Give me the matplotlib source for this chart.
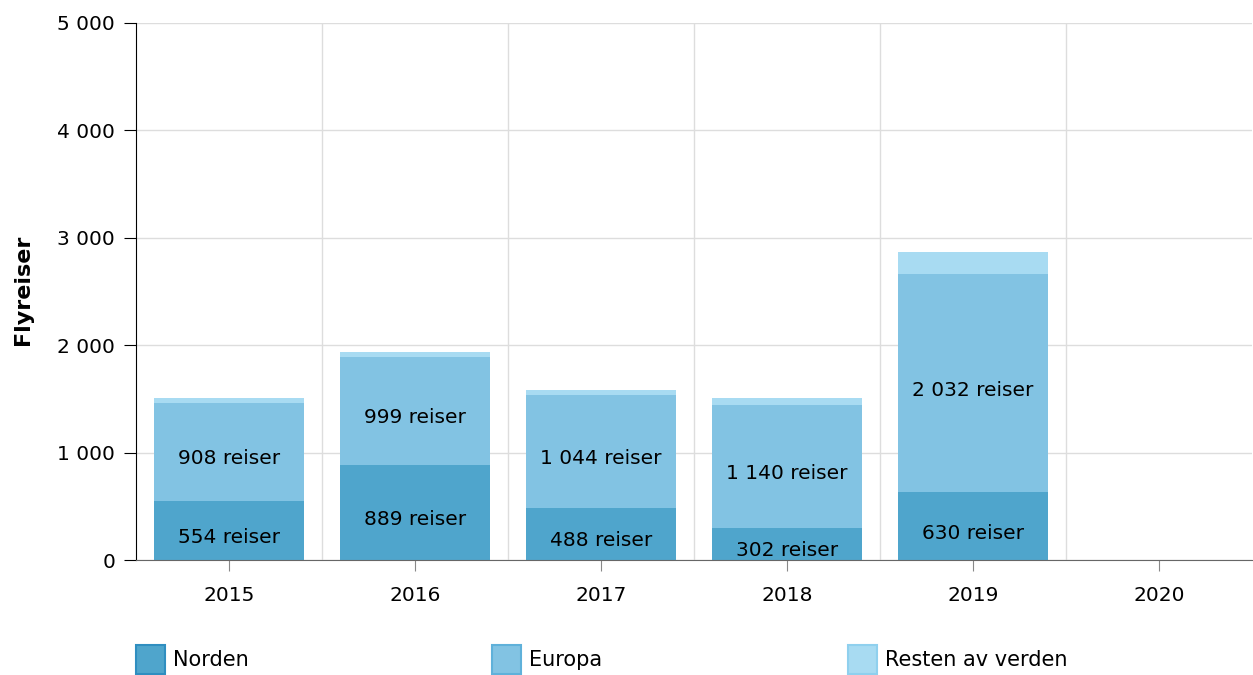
import matplotlib.pyplot as plt
from matplotlib.patches import Rectangle
from matplotlib.ticker import FuncFormatter, MultipleLocator

years = ['2015', '2016', '2017', '2018', '2019', '2020']
norden = [554, 889, 488, 302, 630, 0]
europa = [908, 999, 1044, 1140, 2032, 0]
resten = [46, 49, 51, 66, 206, 0]
series_names = ['Norden', 'Europa', 'Resten av verden']
colors = ['#4fa5cc', '#82c3e3', '#a8dbf2']
edge_colors = ['#2f8ec0', '#5fb1da', '#8fd0ee']

plt.rcParams['font.family'] = ['DejaVu Sans']

fig = plt.figure(figsize=(12.53, 6.75), dpi=100)
ax = fig.add_axes([136 / 1253, 1 - 560 / 675, 1116 / 1253, 537 / 675])

x = list(range(len(years)))
w = 0.81
bottom2 = [a + b for a, b in zip(norden, europa)]
ax.bar(x, norden, w, color=colors[0], zorder=2)
ax.bar(x, europa, w, bottom=norden, color=colors[1], zorder=2)
ax.bar(x, resten, w, bottom=bottom2, color=colors[2], zorder=2)


def fmt(v):
    return f'{int(v):,}'.replace(',', ' ')


for i in x:
    if norden[i] > 0:
        ax.annotate(f'{fmt(norden[i])} reiser', (i, norden[i] / 2), xytext=(0, -5),
                    textcoords='offset points', ha='center', va='center', fontsize=14.5, zorder=3)
    if europa[i] > 0:
        ax.annotate(f'{fmt(europa[i])} reiser', (i, norden[i] + europa[i] / 2), xytext=(0, -5),
                    textcoords='offset points', ha='center', va='center', fontsize=14.5, zorder=3)

ax.set_xlim(-0.5, len(years) - 0.5)
ax.set_ylim(0, 5000)
ax.yaxis.set_major_locator(MultipleLocator(1000))
ax.yaxis.set_major_formatter(FuncFormatter(lambda v, p: fmt(v)))
ax.set_xticks(x)
ax.set_xticklabels(years)
ax.set_xticks([i + 0.5 for i in x[:-1]], minor=True)
ax.tick_params(axis='x', which='minor', length=0)
ax.tick_params(axis='x', which='major', length=8, color='#888888', pad=11, labelsize=14.5)
ax.tick_params(axis='y', length=9, color='black', pad=6, labelsize=14.5)

ax.grid(axis='y', which='major', color='#dddddd', lw=1, zorder=0)
ax.grid(axis='x', which='minor', color='#dddddd', lw=1, zorder=0)

for s in ['top', 'right']:
    ax.spines[s].set_visible(False)
ax.spines['left'].set_color('black')
ax.spines['bottom'].set_color('#666666')

fig.text(23 / 1253, 1 - 290 / 675, 'Flyreiser', rotation=90, ha='center', va='center',
         fontsize=16, fontweight='bold')

# legend
leg_x = [136, 492, 848]
for lx, name, c, ec in zip(leg_x, series_names, colors, edge_colors):
    fig.patches.append(Rectangle((lx / 1253, 1 / 675), 29 / 1253, 29 / 675,
                                 transform=fig.transFigure, facecolor=c, edgecolor=ec, lw=1.5))
    fig.text((lx + 37) / 1253, 1 - 660 / 675, name, ha='left', va='center', fontsize=15)

fig.savefig('out.png', dpi=100)
